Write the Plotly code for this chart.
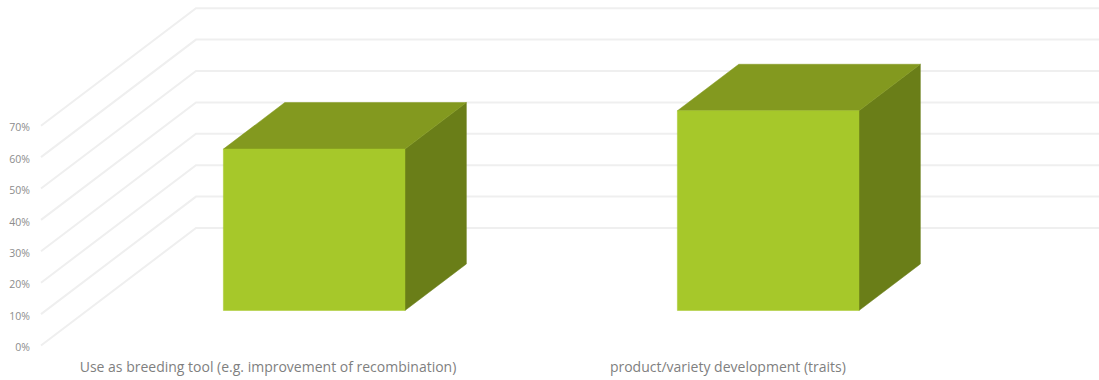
import plotly.graph_objects as go

categories = ["Use as breeding tool (e.g. improvement of recombination)",
              "product/variety development (traits)"]
values = [51.4, 63.6]
tick_values = [0, 10, 20, 30, 40, 50, 60, 70]
tick_labels = ["0%", "10%", "20%", "30%", "40%", "50%", "60%", "70%"]

# oblique projection of the 3D chart box onto the flat axes
DX = 155 / 454   # category units for full depth
DY = 117.5 / 3.14  # percent units for full depth
BAR_W = 0.4
D0, D1 = 0.298, 0.694
FRONT, TOP, SIDE = "#A6C82A", "#83991F", "#6A7E18"
GRID = "#EFEFEF"


def P(c, v, d):
    return c + d * DX, v + d * DY


def poly(pts, color):
    xs, ys = zip(*pts)
    return go.Scatter(x=list(xs) + [xs[0]], y=list(ys) + [ys[0]], mode="lines", fill="toself",
                      fillcolor=color, line=dict(color=color, width=0.5),
                      hoverinfo="skip", showlegend=False, cliponaxis=False)


fig = go.Figure()
for t in tick_values:
    a, b, c = P(-0.5, t, 0), P(-0.5, t, 1), P(1.5, t, 1)
    fig.add_trace(go.Scatter(x=[a[0], b[0], c[0]], y=[a[1], b[1], c[1]], mode="lines",
                             line=dict(color=GRID, width=2), hoverinfo="skip", showlegend=False,
                             cliponaxis=False))

for i, v in enumerate(values):
    l, r = i - BAR_W / 2, i + BAR_W / 2
    fig.add_trace(poly([P(r, 0, D0), P(r, 0, D1), P(r, v, D1), P(r, v, D0)], SIDE))
    fig.add_trace(poly([P(l, v, D0), P(r, v, D0), P(r, v, D1), P(l, v, D1)], TOP))
    fig.add_trace(poly([P(l, 0, D0), P(r, 0, D0), P(r, v, D0), P(l, v, D0)], FRONT))

X_PER_PX = 1 / 454
Y_PER_PX = 1 / 3.14
fig.update_layout(
    width=1099, height=380,
    margin=dict(l=33, r=0, t=0, b=25),
    paper_bgcolor="white", plot_bgcolor="white",
    showlegend=False,
    xaxis=dict(range=[(33 - 268) * X_PER_PX, (1099 - 268) * X_PER_PX], tickmode="array",
               tickvals=[0, 1.013], ticktext=categories, showgrid=False, zeroline=False,
               showline=False, ticks="", tickangle=0, ticklabelstandoff=2,
               tickfont=dict(family="Open Sans", size=14, color="#7F7F7F")),
    yaxis=dict(range=[-9.5 * Y_PER_PX, 345.5 * Y_PER_PX], tickmode="array",
               tickvals=tick_values, ticktext=tick_labels, showgrid=False, zeroline=False,
               showline=False, ticks="", ticklabelstandoff=2, ticklabelshift=2,
               tickfont=dict(family="Open Sans", size=10.5, color="#8C8C8C")),
)
fig.write_html("out.html", config={"displayModeBar": False},
               post_script="document.body.style.margin='0';document.body.style.overflow='hidden';")
